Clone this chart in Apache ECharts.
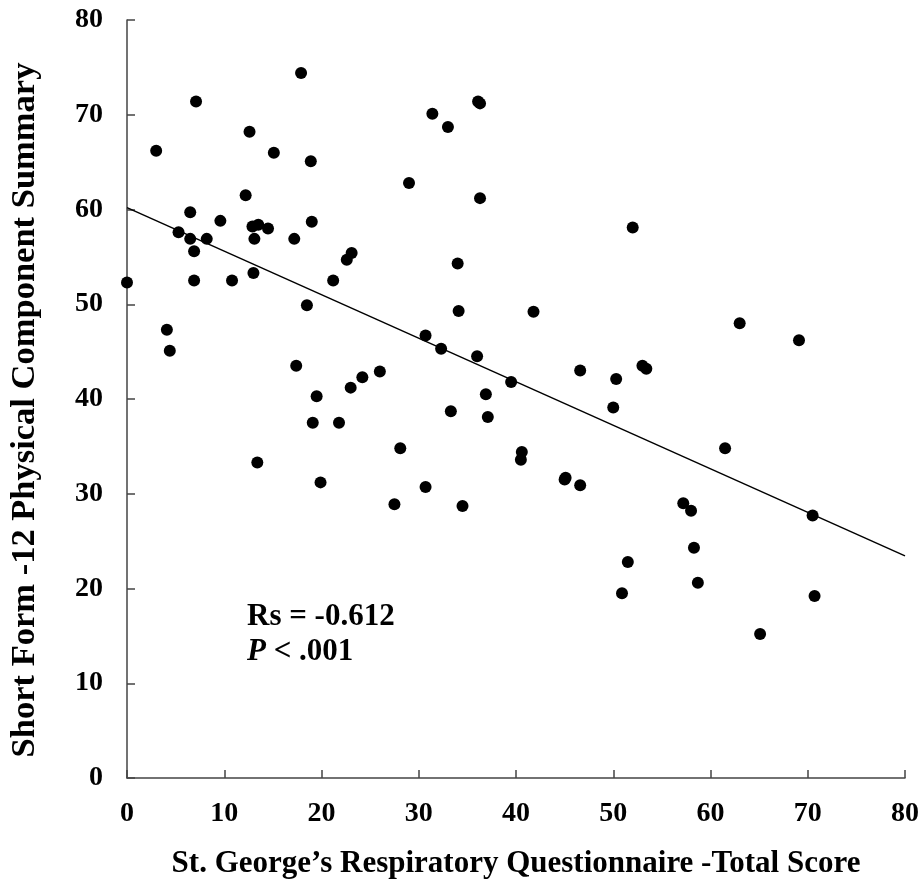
<!DOCTYPE html>
<html>
<head>
<meta charset="utf-8">
<script src="https://cdn.jsdelivr.net/npm/echarts@6/dist/echarts.min.js"></script>
<style>html,body{margin:0;padding:0;background:#fff;}#c{width:922px;height:887px;}</style>
</head>
<body>
<div id="c"></div>
<script>
// SGRQ total score (x) and SF-12 PCS (y)
const sgrq = [17.9, 7.1, 12.6, 3.0, 15.1, 18.9, 29.0, 12.2, 6.5, 9.6, 12.9, 13.5, 14.5, 19.0, 5.3, 6.5, 8.2, 13.1, 17.2, 6.9, 23.1, 22.6, 0.0, 6.9, 10.8, 13.0, 21.2, 18.5, 4.1, 4.4, 17.4, 19.5, 23.0, 24.2, 26.0,
  36.1, 36.3, 31.4, 33.0, 36.3, 52.0, 34.0, 34.1, 41.8, 30.7, 32.3, 36.0, 39.5, 46.6, 50.3, 53.0, 53.4, 36.9,
  63.0, 69.1, 19.1, 21.8, 28.1, 13.4, 19.9, 27.5,
  33.3, 37.1, 50.0, 40.6, 40.5, 30.7, 34.5, 45.1, 45.0, 46.6, 57.2, 58.0, 58.3, 51.5, 58.7, 50.9,
  61.5, 70.5, 70.7, 65.1];
const pcs = [74.4, 71.4, 68.2, 66.2, 66.0, 65.1, 62.8, 61.5, 59.7, 58.8, 58.2, 58.4, 58.0, 58.7, 57.6, 56.9, 56.9, 56.9, 56.9, 55.6, 55.4, 54.7, 52.3, 52.5, 52.5, 53.3, 52.5, 49.9, 47.3, 45.1, 43.5, 40.3, 41.2, 42.3, 42.9,
  71.4, 71.2, 70.1, 68.7, 61.2, 58.1, 54.3, 49.3, 49.2, 46.7, 45.3, 44.5, 41.8, 43.0, 42.1, 43.5, 43.2, 40.5,
  48.0, 46.2, 37.5, 37.5, 34.8, 33.3, 31.2, 28.9,
  38.7, 38.1, 39.1, 34.4, 33.6, 30.7, 28.7, 31.7, 31.5, 30.9, 29.0, 28.2, 24.3, 22.8, 20.6, 19.5,
  34.8, 27.7, 19.2, 15.2];
// fitted regression line end points
const fitX = [0, 80];
const fitY = [60.2, 23.45];
const xTicks = [0, 10, 20, 30, 40, 50, 60, 70, 80];
const yTicks = [0, 10, 20, 30, 40, 50, 60, 70, 80];

const FONT = '"Liberation Serif", "Times New Roman", serif';
const chart = echarts.init(document.getElementById('c'), null, {renderer: 'canvas'});
const axisCommon = {
  type: 'value', min: 0, max: 80, interval: 10,
  axisLine: {show: true, onZero: false, lineStyle: {color: '#444', width: 1.5}},
  axisTick: {show: true, inside: true, length: 8, lineStyle: {color: '#444', width: 1.5}},
  splitLine: {show: false},
  nameLocation: 'middle'
};
chart.setOption({
  animation: false,
  backgroundColor: '#fff',
  grid: {left: 124, right: 16, top: 20, bottom: 109, containLabel: false},
  xAxis: Object.assign({}, axisCommon, {
    name: 'St. George\u2019s Respiratory Questionnaire -Total Score',
    nameGap: 70,
    nameTextStyle: {fontFamily: FONT, fontWeight: 'bold', fontSize: 31, color: '#000'},
    axisLabel: {fontFamily: FONT, fontWeight: 'bold', fontSize: 28, color: '#000', margin: 22,
      formatter: v => xTicks.includes(v) ? String(v) : ''}
  }),
  yAxis: Object.assign({}, axisCommon, {
    name: 'Short Form -12 Physical Component Summary',
    nameGap: 84,
    nameTextStyle: {fontFamily: FONT, fontWeight: 'bold', fontSize: 34.5, color: '#000', padding: [0, 22, 0, 0]},
    axisLabel: {fontFamily: FONT, fontWeight: 'bold', fontSize: 28, color: '#000', margin: 24,
      formatter: v => yTicks.includes(v) ? String(v) : ''}
  }),
  series: [
    {type: 'line', data: fitX.map((x, i) => [x, fitY[i]]), symbol: 'none',
      lineStyle: {color: '#000', width: 1.5}, z: 1},
    {type: 'scatter', data: sgrq.map((x, i) => [x, pcs[i]]), symbolSize: 12,
      itemStyle: {color: '#000', opacity: 1}, z: 2}
  ],
  graphic: [{
    type: 'text', left: 247, top: 601,
    style: {
      text: '{a|Rs = -0.612}\n{b|P}{a| < .001}',
      rich: {
        a: {fontFamily: FONT, fontWeight: 'bold', fontSize: 31, fill: '#000', lineHeight: 35},
        b: {fontFamily: FONT, fontWeight: 'bold', fontStyle: 'italic', fontSize: 31, fill: '#000', lineHeight: 35}
      }
    }
  }]
});
</script>
</body>
</html>
